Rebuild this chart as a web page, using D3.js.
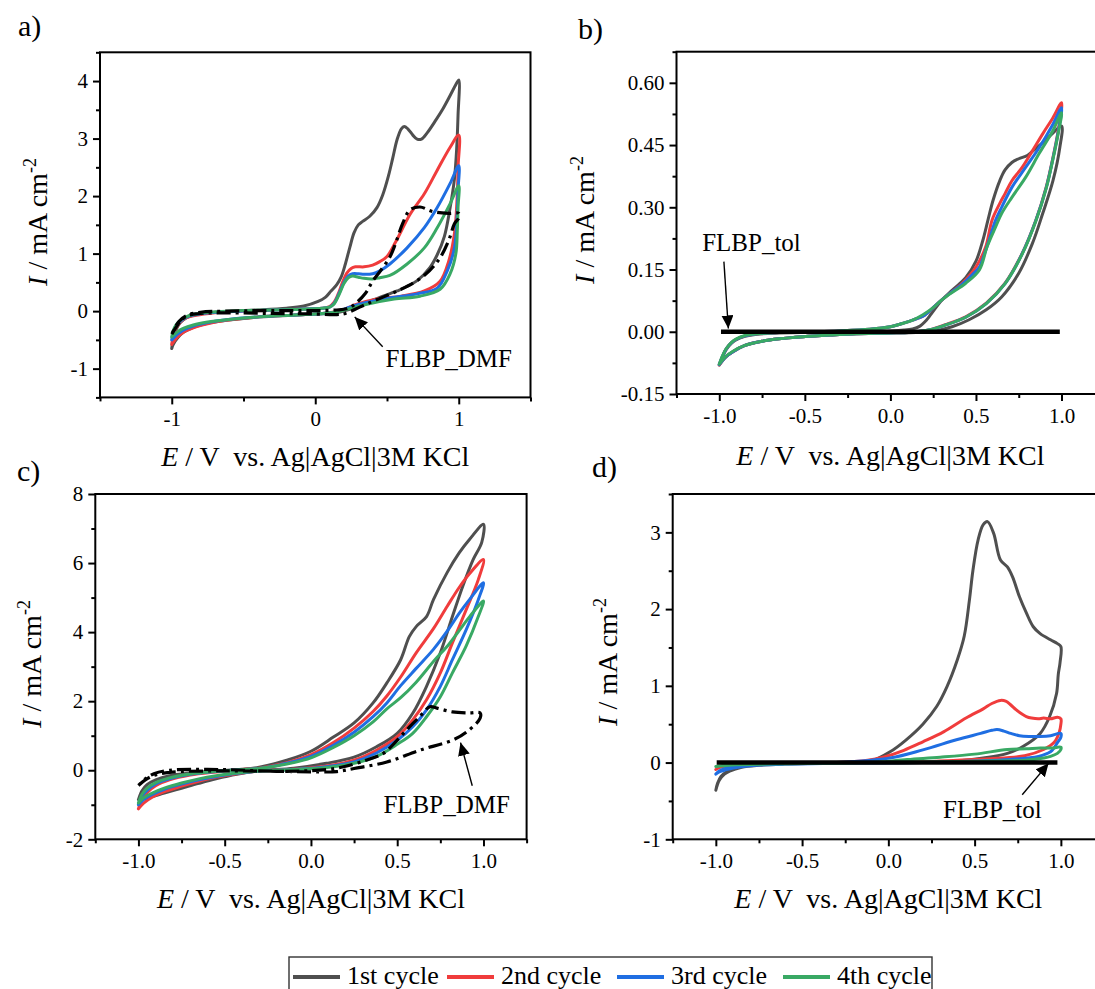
<!DOCTYPE html>
<html><head><meta charset="utf-8">
<script src="https://cdn.jsdelivr.net/npm/d3@7"></script>
<style>
body{margin:0;background:#fff;}
svg{display:block;font-family:"Liberation Serif","Times New Roman",serif;}
svg text{font-family:"Liberation Serif","Times New Roman",serif !important;}
</style></head><body>
<svg id="chart" width="1095" height="989"></svg>
<script>
// ---------------- DATA ----------------
const cycleNames = ["1st cycle","2nd cycle","3rd cycle","4th cycle"];
const cycleColors = ["#4f4f4f","#f03c3c","#1f6ee2","#39a964"];

// tick labels
const aXTicks = [-1,0,1], aYTicks = [-1,0,1,2,3,4];
const bXTicks = [-1.0,-0.5,0.0,0.5,1.0], bYTicks = [-0.15,0.00,0.15,0.30,0.45,0.60];
const cXTicks = [-1.0,-0.5,0.0,0.5,1.0], cYTicks = [-2,0,2,4,6,8];
const dXTicks = [-1.0,-0.5,0.0,0.5,1.0], dYTicks = [-1,0,1,2,3];

// panel a  [E (V), I (mA cm-2)]
const a_cycle1 = [[-1.00,-0.65],[-0.99,-0.48],[-0.97,-0.32],[-0.94,-0.20],[-0.90,-0.12],[-0.85,-0.07],[-0.75,-0.03],[-0.60,0.00],[-0.40,0.02],[-0.20,0.05],[-0.08,0.09],[0.02,0.17],[0.07,0.24],[0.11,0.35],[0.15,0.46],[0.18,0.59],[0.21,0.82],[0.24,1.10],[0.27,1.36],[0.30,1.50],[0.33,1.56],[0.38,1.65],[0.43,1.80],[0.47,2.02],[0.51,2.35],[0.54,2.66],[0.57,2.98],[0.60,3.17],[0.62,3.21],[0.645,3.17],[0.68,3.06],[0.71,2.99],[0.74,2.99],[0.78,3.10],[0.84,3.32],[0.89,3.52],[0.94,3.75],[0.98,3.94],[1.00,4.02],
  [0.995,3.40],[0.985,2.80],[0.97,2.30],[0.94,1.80],[0.90,1.30],[0.85,0.98],[0.80,0.76],[0.71,0.53],[0.57,0.35],[0.45,0.24],[0.38,0.17],[0.30,0.09],[0.24,0.03],[0.18,-0.01],[0.08,-0.04],[-0.16,-0.07],[-0.39,-0.10],[-0.62,-0.16],[-0.75,-0.21],[-0.85,-0.28],[-0.92,-0.37],[-0.96,-0.47],[-0.99,-0.58],[-1.00,-0.65]];
const a_cycle2 = [[-1.00,-0.58],[-0.99,-0.43],[-0.97,-0.29],[-0.94,-0.19],[-0.90,-0.12],[-0.85,-0.08],[-0.74,-0.04],[-0.50,0.00],[-0.16,0.03],[0.05,0.05],[0.10,0.08],[0.13,0.15],[0.16,0.30],[0.19,0.50],[0.22,0.66],[0.25,0.74],[0.28,0.77],[0.34,0.77],[0.40,0.80],[0.45,0.86],[0.50,0.95],[0.56,1.20],[0.66,1.68],[0.76,2.04],[0.85,2.45],[0.94,2.85],[1.00,3.06],
  [0.995,2.50],[0.99,2.04],[0.97,1.35],[0.93,0.87],[0.87,0.52],[0.76,0.35],[0.60,0.26],[0.43,0.21],[0.29,0.12],[0.20,0.03],[0.12,-0.02],[0.00,-0.05],[-0.16,-0.07],[-0.39,-0.10],[-0.62,-0.16],[-0.75,-0.22],[-0.85,-0.29],[-0.92,-0.37],[-0.96,-0.45],[-1.00,-0.58]];
const a_cycle3 = [[-1.00,-0.50],[-0.99,-0.38],[-0.97,-0.26],[-0.94,-0.18],[-0.90,-0.11],[-0.85,-0.07],[-0.74,-0.03],[-0.50,0.00],[-0.16,0.03],[0.05,0.05],[0.10,0.07],[0.13,0.13],[0.17,0.33],[0.20,0.50],[0.23,0.61],[0.26,0.65],[0.30,0.65],[0.34,0.64],[0.40,0.65],[0.45,0.70],[0.52,0.82],[0.64,1.10],[0.76,1.45],[0.85,1.80],[0.94,2.22],[1.00,2.53],
  [0.995,2.10],[0.99,1.75],[0.97,1.10],[0.92,0.70],[0.85,0.40],[0.71,0.30],[0.52,0.23],[0.34,0.14],[0.22,0.05],[0.13,-0.02],[0.00,-0.05],[-0.16,-0.07],[-0.39,-0.10],[-0.62,-0.15],[-0.75,-0.20],[-0.85,-0.26],[-0.92,-0.33],[-0.96,-0.40],[-1.00,-0.50]];
const a_cycle4 = [[-1.00,-0.45],[-0.99,-0.34],[-0.97,-0.24],[-0.94,-0.16],[-0.90,-0.10],[-0.85,-0.06],[-0.74,-0.02],[-0.50,0.01],[-0.16,0.03],[0.05,0.05],[0.10,0.07],[0.13,0.12],[0.17,0.31],[0.20,0.48],[0.23,0.58],[0.26,0.61],[0.30,0.59],[0.34,0.57],[0.40,0.56],[0.45,0.58],[0.52,0.62],[0.64,0.82],[0.76,1.10],[0.85,1.45],[0.94,1.87],[1.00,2.18],
  [0.995,1.80],[0.99,1.40],[0.98,1.00],[0.94,0.65],[0.87,0.38],[0.73,0.26],[0.55,0.21],[0.36,0.12],[0.22,0.03],[0.13,-0.02],[0.00,-0.05],[-0.16,-0.07],[-0.39,-0.10],[-0.62,-0.15],[-0.75,-0.19],[-0.85,-0.24],[-0.92,-0.30],[-0.96,-0.36],[-1.00,-0.45]];
const a_dmf = [[-1.00,-0.40],[-0.97,-0.28],[-0.93,-0.15],[-0.88,-0.07],[-0.80,-0.04],[-0.60,-0.03],[-0.30,-0.04],[0.00,-0.05],[0.15,-0.06],[0.21,-0.04],[0.31,0.07],[0.42,0.19],[0.59,0.37],[0.75,0.60],[0.86,0.89],[0.93,1.23],[0.97,1.52],[1.00,1.62],
  [1.00,1.70],[0.93,1.70],[0.82,1.73],[0.73,1.81],[0.66,1.76],[0.61,1.53],[0.56,1.18],[0.52,0.94],[0.46,0.72],[0.40,0.52],[0.35,0.31],[0.28,0.13],[0.23,0.05],[0.15,0.02],[0.00,0.01],[-0.30,0.01],[-0.60,0.00],[-0.80,-0.02],[-0.90,-0.08],[-0.95,-0.18],[-1.00,-0.40]];

// panel b
const b_cycle1 = [[-1.00,-0.080],[-0.98,-0.060],[-0.96,-0.043],[-0.93,-0.028],[-0.90,-0.019],[-0.85,-0.011],[-0.78,-0.006],[-0.65,-0.003],[-0.45,-0.001],[-0.25,0.000],[0.00,0.002],[0.08,0.004],[0.13,0.007],[0.17,0.013],[0.21,0.028],[0.24,0.044],[0.30,0.076],[0.36,0.100],[0.44,0.130],[0.50,0.170],[0.54,0.220],[0.57,0.269],[0.60,0.317],[0.64,0.365],[0.67,0.390],[0.71,0.408],[0.75,0.417],[0.80,0.425],[0.83,0.435],[0.88,0.452],[0.94,0.475],[1.00,0.496],
  [0.99,0.444],[0.95,0.364],[0.89,0.285],[0.83,0.213],[0.75,0.141],[0.65,0.084],[0.56,0.053],[0.46,0.029],[0.36,0.012],[0.26,0.002],[0.15,-0.002],[0.00,-0.003],[-0.20,-0.005],[-0.35,-0.008],[-0.51,-0.012],[-0.65,-0.017],[-0.75,-0.023],[-0.85,-0.033],[-0.92,-0.048],[-0.96,-0.060],[-1.00,-0.080]];
const b_cycle2 = [[-1.00,-0.080],[-0.98,-0.058],[-0.96,-0.042],[-0.93,-0.027],[-0.90,-0.018],[-0.85,-0.010],[-0.78,-0.005],[-0.65,-0.002],[-0.45,0.000],[-0.30,0.002],[-0.12,0.006],[0.00,0.012],[0.07,0.020],[0.13,0.028],[0.20,0.040],[0.25,0.058],[0.29,0.073],[0.34,0.090],[0.42,0.117],[0.50,0.156],[0.557,0.205],[0.594,0.269],[0.64,0.310],[0.67,0.333],[0.71,0.364],[0.77,0.396],[0.83,0.436],[0.89,0.477],[0.95,0.516],[1.00,0.552],
  [0.98,0.484],[0.95,0.420],[0.91,0.348],[0.85,0.269],[0.77,0.189],[0.67,0.117],[0.56,0.069],[0.44,0.036],[0.32,0.017],[0.23,0.005],[0.12,-0.001],[0.00,-0.003],[-0.20,-0.005],[-0.35,-0.008],[-0.51,-0.012],[-0.65,-0.017],[-0.75,-0.023],[-0.85,-0.033],[-0.92,-0.048],[-0.96,-0.060],[-1.00,-0.080]];
const b_cycle3 = [[-1.00,-0.079],[-0.98,-0.058],[-0.96,-0.042],[-0.93,-0.027],[-0.90,-0.018],[-0.85,-0.010],[-0.78,-0.005],[-0.65,-0.002],[-0.45,0.000],[-0.30,0.002],[-0.12,0.006],[0.00,0.012],[0.07,0.020],[0.13,0.028],[0.20,0.040],[0.25,0.058],[0.29,0.073],[0.34,0.090],[0.42,0.115],[0.48,0.138],[0.52,0.156],[0.55,0.188],[0.577,0.221],[0.615,0.269],[0.65,0.300],[0.71,0.348],[0.79,0.396],[0.87,0.444],[0.95,0.500],[1.00,0.540],
  [0.98,0.480],[0.95,0.418],[0.91,0.346],[0.85,0.268],[0.77,0.188],[0.67,0.116],[0.56,0.068],[0.44,0.035],[0.32,0.016],[0.23,0.005],[0.12,-0.001],[0.00,-0.003],[-0.20,-0.005],[-0.35,-0.008],[-0.51,-0.012],[-0.65,-0.017],[-0.75,-0.023],[-0.85,-0.033],[-0.92,-0.048],[-0.96,-0.060],[-1.00,-0.079]];
const b_cycle4 = [[-1.00,-0.078],[-0.98,-0.057],[-0.96,-0.041],[-0.93,-0.026],[-0.90,-0.017],[-0.85,-0.009],[-0.78,-0.005],[-0.65,-0.002],[-0.45,0.000],[-0.30,0.002],[-0.12,0.006],[0.00,0.012],[0.07,0.020],[0.13,0.028],[0.19,0.041],[0.25,0.058],[0.29,0.073],[0.34,0.089],[0.44,0.117],[0.52,0.149],[0.565,0.205],[0.615,0.253],[0.65,0.285],[0.71,0.324],[0.79,0.372],[0.87,0.430],[0.95,0.485],[1.00,0.528],
  [0.98,0.476],[0.95,0.416],[0.91,0.345],[0.85,0.267],[0.77,0.187],[0.67,0.116],[0.56,0.068],[0.44,0.035],[0.32,0.016],[0.23,0.005],[0.12,-0.001],[0.00,-0.003],[-0.20,-0.005],[-0.35,-0.008],[-0.51,-0.012],[-0.65,-0.017],[-0.75,-0.023],[-0.85,-0.033],[-0.92,-0.047],[-0.96,-0.059],[-1.00,-0.078]];
const b_tol = [[-0.99,0.000],[0.99,0.000]];

// panel c
const c_cycle1 = [[-1.00,-0.85],[-0.98,-0.60],[-0.95,-0.42],[-0.90,-0.28],[-0.82,-0.16],[-0.70,-0.08],[-0.55,-0.02],[-0.40,0.03],[-0.30,0.09],[-0.14,0.29],[0.00,0.55],[0.13,0.96],[0.25,1.37],[0.36,1.95],[0.44,2.53],[0.52,3.20],[0.57,3.87],[0.61,4.16],[0.67,4.45],[0.71,4.94],[0.79,5.73],[0.86,6.30],[0.92,6.69],[1.00,7.12],
  [0.99,6.60],[0.94,6.10],[0.88,5.33],[0.82,4.45],[0.75,3.40],[0.67,2.43],[0.59,1.65],[0.50,1.07],[0.38,0.68],[0.25,0.38],[0.09,0.20],[-0.10,0.06],[-0.30,-0.02],[-0.43,-0.12],[-0.55,-0.25],[-0.65,-0.38],[-0.75,-0.52],[-0.85,-0.66],[-0.92,-0.76],[-0.97,-0.82],[-1.00,-0.85]];
const c_cycle2 = [[-1.00,-1.12],[-0.98,-0.85],[-0.95,-0.65],[-0.90,-0.45],[-0.82,-0.28],[-0.70,-0.14],[-0.55,-0.05],[-0.40,0.02],[-0.30,0.06],[-0.14,0.22],[0.00,0.45],[0.13,0.80],[0.25,1.22],[0.36,1.70],[0.44,2.15],[0.52,2.70],[0.61,3.40],[0.71,4.10],[0.79,4.75],[0.86,5.30],[0.92,5.70],[1.00,6.10],
  [0.97,5.52],[0.90,4.65],[0.82,3.69],[0.75,2.82],[0.67,2.04],[0.59,1.46],[0.50,0.97],[0.38,0.58],[0.25,0.29],[0.09,0.12],[-0.10,0.03],[-0.30,-0.02],[-0.43,-0.10],[-0.55,-0.20],[-0.65,-0.32],[-0.75,-0.46],[-0.85,-0.62],[-0.92,-0.78],[-0.97,-0.95],[-1.00,-1.12]];
const c_cycle3 = [[-1.00,-1.00],[-0.98,-0.75],[-0.95,-0.58],[-0.90,-0.40],[-0.82,-0.25],[-0.70,-0.12],[-0.55,-0.04],[-0.40,0.02],[-0.30,0.05],[-0.14,0.20],[0.00,0.40],[0.13,0.72],[0.25,1.10],[0.36,1.55],[0.44,1.95],[0.52,2.45],[0.61,2.95],[0.71,3.50],[0.80,4.10],[0.86,4.55],[0.92,4.95],[1.00,5.43],
  [0.97,4.94],[0.90,4.07],[0.82,3.20],[0.75,2.43],[0.67,1.75],[0.59,1.26],[0.50,0.87],[0.38,0.50],[0.25,0.24],[0.09,0.10],[-0.10,0.02],[-0.30,-0.02],[-0.43,-0.09],[-0.55,-0.18],[-0.65,-0.28],[-0.75,-0.40],[-0.85,-0.55],[-0.92,-0.70],[-0.97,-0.85],[-1.00,-1.00]];
const c_cycle4 = [[-1.00,-0.95],[-0.98,-0.70],[-0.95,-0.52],[-0.90,-0.36],[-0.82,-0.22],[-0.70,-0.11],[-0.55,-0.03],[-0.40,0.02],[-0.30,0.05],[-0.14,0.18],[0.00,0.36],[0.13,0.66],[0.25,1.00],[0.36,1.40],[0.44,1.78],[0.52,2.10],[0.61,2.55],[0.71,3.15],[0.80,3.65],[0.86,4.05],[0.92,4.45],[1.00,4.90],
  [0.97,4.45],[0.90,3.60],[0.82,2.82],[0.75,2.13],[0.67,1.55],[0.59,1.07],[0.50,0.75],[0.38,0.40],[0.25,0.20],[0.09,0.08],[-0.10,0.02],[-0.30,-0.02],[-0.43,-0.08],[-0.55,-0.16],[-0.65,-0.25],[-0.75,-0.37],[-0.85,-0.52],[-0.92,-0.66],[-0.97,-0.80],[-1.00,-0.95]];
const c_dmf = [[-1.00,-0.44],[-0.96,-0.28],[-0.91,-0.15],[-0.82,-0.06],[-0.53,-0.02],[-0.20,-0.03],[0.05,-0.05],[0.15,-0.04],[0.25,0.05],[0.44,0.24],[0.63,0.58],[0.82,0.87],[0.90,1.10],[0.98,1.50],
  [0.98,1.66],[0.92,1.66],[0.82,1.69],[0.73,1.80],[0.69,1.84],[0.63,1.55],[0.57,1.25],[0.50,0.87],[0.42,0.49],[0.32,0.29],[0.15,0.06],[-0.14,-0.03],[-0.53,0.02],[-0.82,0.00],[-0.91,-0.10],[-0.96,-0.25],[-1.00,-0.44]];

// panel d
const d_cycle1 = [[-1.00,-0.36],[-0.98,-0.23],[-0.95,-0.15],[-0.92,-0.11],[-0.85,-0.06],[-0.75,-0.035],[-0.60,-0.02],[-0.40,-0.01],[-0.20,0.00],[-0.10,0.02],[0.01,0.14],[0.10,0.29],[0.20,0.50],[0.28,0.73],[0.34,0.99],[0.40,1.34],[0.44,1.65],[0.47,2.12],[0.49,2.50],[0.52,2.90],[0.55,3.10],[0.575,3.14],[0.61,2.99],[0.65,2.64],[0.69,2.55],[0.72,2.42],[0.76,2.16],[0.80,1.95],[0.84,1.77],[0.88,1.68],[0.94,1.60],[0.98,1.55],[1.00,1.51],
  [0.995,1.30],[0.985,1.15],[0.975,0.90],[0.935,0.60],[0.88,0.38],[0.78,0.21],[0.69,0.12],[0.55,0.06],[0.40,0.02],[0.20,0.00],[0.00,-0.005],[-0.30,-0.01],[-0.56,-0.01],[-0.70,-0.02],[-0.77,-0.03],[-0.85,-0.05],[-0.89,-0.07],[-0.93,-0.11],[-0.97,-0.18],[-0.99,-0.27],[-1.00,-0.36]];
const d_cycle2 = [[-1.00,-0.09],[-0.97,-0.06],[-0.92,-0.035],[-0.80,-0.015],[-0.60,-0.008],[-0.30,0.00],[-0.12,0.03],[-0.03,0.07],[0.09,0.16],[0.20,0.27],[0.32,0.40],[0.45,0.58],[0.55,0.70],[0.60,0.77],[0.65,0.81],[0.68,0.80],[0.71,0.75],[0.74,0.69],[0.77,0.64],[0.80,0.60],[0.83,0.58],[0.87,0.57],[0.90,0.58],[0.94,0.57],[0.98,0.59],[1.00,0.57],
  [1.00,0.50],[0.99,0.39],[0.96,0.26],[0.90,0.17],[0.79,0.09],[0.59,0.05],[0.40,0.03],[0.20,0.01],[0.00,0.00],[-0.30,-0.005],[-0.60,-0.01],[-0.80,-0.02],[-0.92,-0.04],[-0.97,-0.06],[-1.00,-0.09]];
const d_cycle3 = [[-1.00,-0.15],[-0.98,-0.11],[-0.95,-0.08],[-0.90,-0.05],[-0.80,-0.03],[-0.60,-0.015],[-0.30,0.00],[0.01,0.06],[0.20,0.165],[0.40,0.30],[0.535,0.38],[0.60,0.42],[0.63,0.43],[0.67,0.41],[0.71,0.38],[0.76,0.35],[0.82,0.34],[0.88,0.34],[0.94,0.35],[1.00,0.38],
  [1.00,0.33],[0.98,0.26],[0.96,0.19],[0.94,0.14],[0.87,0.08],[0.70,0.04],[0.50,0.02],[0.20,0.00],[-0.30,-0.01],[-0.60,-0.02],[-0.80,-0.04],[-0.90,-0.07],[-0.95,-0.10],[-0.98,-0.12],[-1.00,-0.15]];
const d_cycle4 = [[-1.00,-0.05],[-0.97,-0.04],[-0.90,-0.03],[-0.70,-0.02],[-0.40,-0.01],[-0.10,0.00],[0.11,0.04],[0.30,0.07],[0.50,0.11],[0.69,0.17],[0.80,0.18],[0.88,0.19],[0.95,0.19],[1.00,0.20],
  [1.00,0.17],[0.98,0.12],[0.94,0.08],[0.90,0.06],[0.79,0.03],[0.60,0.02],[0.30,0.01],[0.00,0.00],[-0.40,-0.01],[-0.80,-0.02],[-0.95,-0.04],[-1.00,-0.05]];
const d_tol = [[-0.995,0.000],[0.98,0.000]];

// annotations [text, textAnchorPoint, arrowTail, arrowTip]
const a_note = ["FLBP_DMF", [0.49,-0.97], [0.47,-0.62], [0.275,-0.10]];
const b_note = ["FLBP_tol", [-1.10,0.195], [-0.973,0.169], [-0.947,0.008]];
const c_note = ["FLBP_DMF", [0.42,-1.25], [0.935,-0.45], [0.867,0.80]];
const d_note = ["FLBP_tol", [0.317,-0.72], [0.776,-0.42], [0.929,-0.01]];

// ---------------- DRAWING ----------------
const svg = d3.select("#chart");
const FONT = '"Liberation Serif","Times New Roman",serif';

svg.append("defs").append("marker")
  .attr("id","arrowhead").attr("markerUnits","userSpaceOnUse")
  .attr("markerWidth",14).attr("markerHeight",14)
  .attr("refX",13).attr("refY",6).attr("orient","auto")
  .append("path").attr("d","M0,0 L13,6 L0,12 Z").attr("fill","#000");

const fmtInt = d => String(d);
const fmt1 = d => d.toFixed(1);
const fmt2 = d => d.toFixed(2);

const panels = [
  {label:"a)", labelPos:[18,36], box:[100,52.3,530.5,397.4], xDomain:[-1.5,1.5], yDomain:[-1.5,4.5],
   xMajor:aXTicks, yMajor:aYTicks, xMinor:[-1.5,-0.5,0.5,1.5], yMinor:d3.range(-1.5,4.6,1),
   xFmt:fmtInt, yFmt:fmtInt, series:[a_cycle1,a_cycle2,a_cycle3,a_cycle4], ref:a_dmf, refType:"dmf", note:a_note,
   xTitleY:466, yTitleX:47, yTitleY:222},
  {label:"b)", labelPos:[578,39], box:[676.5,51.7,1104.3,394], xDomain:[-1.25,1.25], yDomain:[-0.15,0.675],
   xMajor:bXTicks, yMajor:bYTicks, xMinor:[-1.25,-0.75,-0.25,0.25,0.75,1.25], yMinor:[-0.075,0.075,0.225,0.375,0.525,0.675],
   xFmt:fmt1, yFmt:fmt2, series:[b_cycle1,b_cycle2,b_cycle3,b_cycle4], ref:b_tol, refType:"tol", note:b_note,
   xTitleY:465, yTitleX:594, yTitleY:220},
  {label:"c)", labelPos:[17,481], box:[95.3,494,526.6,839.3], xDomain:[-1.25,1.25], yDomain:[-2,8],
   xMajor:cXTicks, yMajor:cYTicks, xMinor:[-1.25,-0.75,-0.25,0.25,0.75,1.25], yMinor:[-1,1,3,5,7],
   xFmt:fmt1, yFmt:fmtInt, series:[c_cycle1,c_cycle2,c_cycle3,c_cycle4], ref:c_dmf, refType:"dmf", note:c_note,
   xTitleY:908, yTitleX:41, yTitleY:664},
  {label:"d)", labelPos:[592,477], box:[672.7,494,1104,839.3], xDomain:[-1.25,1.25], yDomain:[-1,3.5],
   xMajor:dXTicks, yMajor:dYTicks, xMinor:[-1.25,-0.75,-0.25,0.25,0.75,1.25], yMinor:[-0.5,0.5,1.5,2.5,3.5],
   xFmt:fmt1, yFmt:fmtInt, series:[d_cycle1,d_cycle2,d_cycle3,d_cycle4], ref:d_tol, refType:"tol", note:d_note,
   xTitleY:908, yTitleX:617, yTitleY:662}
];

function drawPanel(p){
  const [L,T,R,B] = p.box;
  const x = d3.scaleLinear().domain(p.xDomain).range([L,R]);
  const y = d3.scaleLinear().domain(p.yDomain).range([B,T]);
  const g = svg.append("g");
  const line = d3.line().x(d=>x(d[0])).y(d=>y(d[1])).curve(d3.curveCatmullRom.alpha(0.5));

  p.series.forEach((s,i)=>{
    g.append("path").attr("d",line(s)).attr("fill","none")
     .attr("stroke",cycleColors[i]).attr("stroke-width",3)
     .attr("stroke-linejoin","round").attr("stroke-linecap","round");
  });
  if(p.refType==="dmf"){
    g.append("path").attr("d",line(p.ref)).attr("fill","none").attr("stroke","#000")
     .attr("stroke-width",3.2).attr("stroke-dasharray","14,5,3,5");
  } else {
    g.append("path").attr("d",d3.line().x(d=>x(d[0])).y(d=>y(d[1]))(p.ref)).attr("fill","none")
     .attr("stroke","#000").attr("stroke-width",4.5);
  }

  // frame
  g.append("rect").attr("x",L).attr("y",T).attr("width",R-L).attr("height",B-T)
   .attr("fill","none").attr("stroke","#000").attr("stroke-width",2);

  // axes
  const styleAxis = sel => {
    sel.attr("font-family",null).attr("font-size",null);
    sel.select(".domain").remove();
    sel.selectAll("line").attr("stroke","#000").attr("stroke-width",2);
    sel.selectAll("text").attr("fill","#000").style("font-family",FONT).style("font-size","21px");
  };
  g.append("g").attr("transform",`translate(0,${B})`)
   .call(d3.axisBottom(x).tickValues(p.xMinor).tickSize(4).tickFormat("").tickSizeOuter(0)).call(styleAxis);
  g.append("g").attr("transform",`translate(0,${B})`)
   .call(d3.axisBottom(x).tickValues(p.xMajor).tickSize(7).tickPadding(7).tickFormat(p.xFmt).tickSizeOuter(0)).call(styleAxis);
  g.append("g").attr("transform",`translate(${L},0)`)
   .call(d3.axisLeft(y).tickValues(p.yMinor).tickSize(4).tickFormat("").tickSizeOuter(0)).call(styleAxis);
  g.append("g").attr("transform",`translate(${L},0)`)
   .call(d3.axisLeft(y).tickValues(p.yMajor).tickSize(7).tickPadding(5).tickFormat(p.yFmt).tickSizeOuter(0)).call(styleAxis);

  // x title
  const xt = g.append("text").attr("x",(L+R)/2).attr("y",p.xTitleY)
    .attr("text-anchor","middle").attr("font-size",28).attr("font-family",FONT)
    .style("white-space","pre");
  xt.append("tspan").attr("font-style","italic").text("E");
  xt.append("tspan").text(" / V  vs. Ag|AgCl|3M KCl");

  // y title
  const yt = g.append("text").attr("transform",`translate(${p.yTitleX},${p.yTitleY}) rotate(-90)`)
    .attr("text-anchor","middle").attr("font-size",28).attr("font-family",FONT).style("white-space","pre");
  yt.append("tspan").attr("font-style","italic").text("I");
  yt.append("tspan").text(" / mA cm");
  yt.append("tspan").attr("font-size",18).attr("dy",-11).text("-2");

  // panel label
  g.append("text").attr("x",p.labelPos[0]).attr("y",p.labelPos[1]).attr("font-size",30)
   .attr("font-family",FONT).text(p.label);

  // annotation
  const [txt, tp, tail, tip] = p.note;
  g.append("line").attr("x1",x(tail[0])).attr("y1",y(tail[1])).attr("x2",x(tip[0])).attr("y2",y(tip[1]))
   .attr("stroke","#000").attr("stroke-width",1.4).attr("marker-end","url(#arrowhead)");
  g.append("text").attr("x",x(tp[0])).attr("y",y(tp[1])).attr("font-size",25).attr("font-family",FONT).text(txt);
}
panels.forEach(drawPanel);

// legend
const lg = svg.append("g");
lg.append("rect").attr("x",289).attr("y",957).attr("width",643).attr("height",40)
  .attr("fill","none").attr("stroke","#333").attr("stroke-width",1.4);
const legX = [293,447,617,783];
cycleNames.forEach((n,i)=>{
  lg.append("line").attr("x1",legX[i]).attr("x2",legX[i]+47).attr("y1",977).attr("y2",977)
    .attr("stroke",cycleColors[i]).attr("stroke-width",4);
  lg.append("text").attr("x",legX[i]+54).attr("y",984).attr("font-size",26).attr("font-family",FONT).text(n);
});
</script>
</body></html>
